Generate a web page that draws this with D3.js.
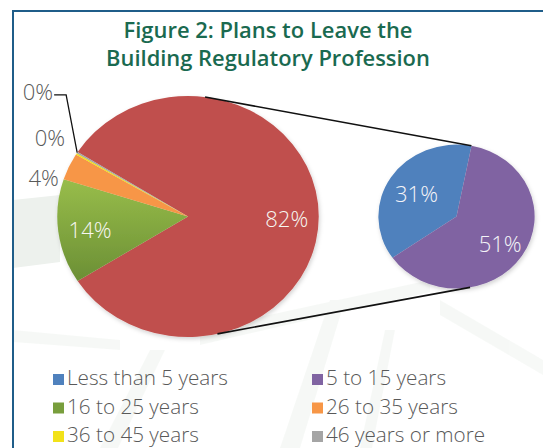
<!DOCTYPE html>
<html>
<head>
<meta charset="utf-8">
<script src="https://cdn.jsdelivr.net/npm/d3@7"></script>
<style>
  html, body { margin: 0; padding: 0; background: #ffffff; }
  svg { display: block; }
</style>
</head>
<body>
<svg id="chart" width="543" height="448"></svg>
<script>
// ---------------- data ----------------
const titleLines = ["Figure 2: Plans to Leave the", "Building Regulatory Profession"];
const categories = ["Less than 5 years", "5 to 15 years", "16 to 25 years", "26 to 35 years", "36 to 45 years", "46 years or more"];
const values = [31, 51, 14, 3.6, 0.2, 0.2];
const valueLabels = ["31%", "51%", "14%", "4%", "0%", "0%"];
const colors = ["#4f81bd", "#8064a2", "#8cb048", "#f79646", "#f2e21a", "#a5a5a5"];
const otherColor = "#c0504d";
const otherLabel = "82%";
const secondaryIdx = [0, 1];      // categories split out into the small pie
const mainIdx = [2, 3, 4, 5];     // remaining categories in the big pie

// ---------------- layout ----------------
const W = 543, H = 448;
const svg = d3.select("#chart");
const deg = Math.PI / 180;
const sx = 1.085; // horizontal stretch of the picture

const main = { cx: 188, cy: 216.5, r: 120.5 };
const sec = { cx: 456.5, cy: 216.5, r: 72 };

const defs = svg.append("defs");
const gGrad = defs.append("linearGradient").attr("id", "greenGrad").attr("x1", 0).attr("y1", 0).attr("x2", 0).attr("y2", 1);
gGrad.append("stop").attr("offset", "0%").attr("stop-color", "#98bd4a");
gGrad.append("stop").attr("offset", "100%").attr("stop-color", "#6b8f35");
const shadow = defs.append("filter").attr("id", "shadow").attr("x", "-10%").attr("y", "-10%").attr("width", "120%").attr("height", "120%");
shadow.append("feDropShadow").attr("dx", 1).attr("dy", 2).attr("stdDeviation", 2).attr("flood-color", "#000").attr("flood-opacity", 0.18);

// background watermark (faint building lines)
svg.append("polygon").attr("points", "13,200 60,195 60,262 13,268").attr("fill", "#edf1ed");
const bg = svg.append("g").attr("opacity", 0.3);
const wm = [
  [[280, 448], [330, 300], [345, 300], [300, 448]],
  [[360, 448], [385, 330], [395, 330], [372, 448]],
  [[100, 448], [150, 350], [165, 350], [118, 448]],
  [[200, 330], [430, 280], [430, 292], [200, 345]],
  [[440, 300], [543, 360], [543, 375], [440, 315]],
  [[13, 330], [120, 340], [120, 350], [13, 342]]
];
wm.forEach(p => bg.append("polygon").attr("points", p.map(q => q.join(",")).join(" ")).attr("fill", "#e3ebe3"));

// frame
svg.append("line").attr("x1", 13).attr("x2", W).attr("y1", 11).attr("y2", 11).attr("stroke", "#1f5d89").attr("stroke-width", 2);
svg.append("line").attr("x1", 13).attr("x2", 13).attr("y1", 10).attr("y2", H).attr("stroke", "#1f5d89").attr("stroke-width", 2);

// title
const titleTargets = [289, 324];
titleLines.forEach((t, i) => {
  const tx = svg.append("text")
    .attr("x", 268).attr("y", 38 + i * 28)
    .attr("text-anchor", "middle")
    .attr("font-family", "'Open Sans', 'Noto Sans', sans-serif")
    .attr("font-weight", 600)
    .attr("font-size", 20)
    .attr("fill", "#1a6a50")
    .text(t);
  const w = tx.node().getComputedTextLength();
  tx.attr("font-size", 20 * titleTargets[i] / w);
});

// font size fitting helper
const labFont = "'Open Sans', 'Noto Sans', sans-serif";
function fitSize(txt, target) {
  const t = svg.append("text").attr("font-family", labFont).attr("font-weight", 300).attr("font-size", 20).text(txt);
  const w = t.node().getComputedTextLength();
  t.remove();
  return 20 * target / w;
}
const labSize = fitSize(otherLabel, 43);
const legSize = fitSize(categories[0], 161);

// ---------------- main pie ----------------
const otherValue = d3.sum(secondaryIdx, i => values[i]);
const mainData = [{ key: "other", value: otherValue, color: otherColor, label: otherLabel }]
  .concat(mainIdx.map(i => ({ key: categories[i], value: values[i], color: colors[i], label: valueLabels[i], idx: i })));
const total = d3.sum(mainData, d => d.value);
const otherSpan = otherValue / total * 360;
const mainStart = (90 - otherSpan / 2) * deg;

const mainPie = d3.pie().sort(null).value(d => d.value).startAngle(mainStart).endAngle(mainStart + 2 * Math.PI);
const mainArcs = mainPie(mainData);
const mainArc = d3.arc().innerRadius(0).outerRadius(main.r);

const gMain = svg.append("g").attr("transform", `translate(${main.cx},${main.cy}) scale(${sx},1)`).attr("filter", "url(#shadow)");
gMain.selectAll("path").data(mainArcs).join("path")
  .attr("d", mainArc)
  .attr("fill", d => d.data.idx === 2 ? "url(#greenGrad)" : d.data.color);

// ---------------- secondary pie ----------------
const secData = secondaryIdx.map(i => ({ key: categories[i], value: values[i], color: colors[i], label: valueLabels[i] }));
const secStart = 235 * deg;
const secPie = d3.pie().sort(null).value(d => d.value).startAngle(secStart).endAngle(secStart + 2 * Math.PI);
const secArcs = secPie(secData);
const secArc = d3.arc().innerRadius(0).outerRadius(sec.r);
const gSec = svg.append("g").attr("transform", `translate(${sec.cx},${sec.cy}) scale(${sx},1)`).attr("filter", "url(#shadow)");
gSec.selectAll("path").data(secArcs).join("path").attr("d", secArc).attr("fill", d => d.data.color);

// ---------------- connector lines ----------------
function polar(c, r, a) { return [c.cx + sx * r * Math.sin(a), c.cy - r * Math.cos(a)]; }
const conn = [
  [polar(main, main.r, 7.5 * deg), polar(sec, sec.r, 11 * deg)],
  [polar(main, main.r, 167 * deg), polar(sec, sec.r, 170 * deg)]
];
conn.forEach(([a, b]) => svg.append("line")
  .attr("x1", a[0]).attr("y1", a[1]).attr("x2", b[0]).attr("y2", b[1])
  .attr("stroke", "#111").attr("stroke-width", 1.6));

// ---------------- labels ----------------
function addLabel(x, y, txt, fill, anchor) {
  svg.append("text").attr("x", x).attr("y", y)
    .attr("text-anchor", anchor || "middle")
    .attr("dominant-baseline", "central")
    .attr("font-family", labFont).attr("font-weight", 300)
    .attr("font-size", labSize).attr("fill", fill).text(txt);
}
// inside labels
const inLabR = 91;
mainArcs.forEach(d => {
  if (d.data.key === "other" || d.data.idx === 2) {
    const a = (d.startAngle + d.endAngle) / 2;
    const p = polar(main, inLabR, a);
    addLabel(p[0], p[1] + 1, d.data.label, "#f7f7f2");
  }
});
const secLabR = [44, 48];
secArcs.forEach((d, i) => {
  const a = (d.startAngle + d.endAngle) / 2;
  const p = polar(sec, secLabR[i], a);
  addLabel(p[0], p[1], d.data.label, "#f4f4f8");
});
// outside labels (polar placement of the label's right end)
const outside = { 3: { a: 285.7, r: 123.6 }, 4: { a: 303, r: 135 }, 5: { a: 313.9, r: 172.5 } };
mainArcs.forEach(d => {
  const o = outside[d.data.idx];
  if (!o) return;
  const p = polar(main, o.r, o.a * deg);
  addLabel(p[0], p[1] - 6, d.data.label, "#595959", "end");
  if (d.data.idx === 5) {
    const e = polar(main, main.r, (d.startAngle + d.endAngle) / 2);
    svg.append("polyline")
      .attr("points", [[p[0] + 1, p[1] - 2], [p[0] + 13, p[1] - 2], e].map(q => q.join(",")).join(" "))
      .attr("fill", "none").attr("stroke", "#111").attr("stroke-width", 1.3);
  }
});

// ---------------- legend ----------------
const legCols = [53, 312];
const legRows = [385, 413.5, 442];
categories.forEach((c, i) => {
  const x = legCols[i % 2], y = legRows[Math.floor(i / 2)];
  svg.append("rect").attr("x", x).attr("y", y - 11).attr("width", 11).attr("height", 11).attr("fill", i === 2 ? "#789e3c" : colors[i]);
  svg.append("text").attr("x", x + 14).attr("y", y)
    .attr("font-family", labFont).attr("font-weight", 300)
    .attr("font-size", legSize).attr("fill", "#595959").text(c);
});
</script>
</body>
</html>
